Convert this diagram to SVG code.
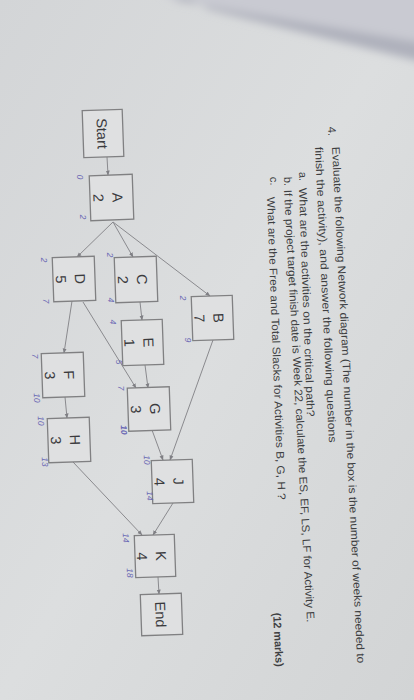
<svg xmlns="http://www.w3.org/2000/svg" width="414" height="700" viewBox="0 0 414 700">
<defs>
<linearGradient id="paper" x1="0" y1="0" x2="1" y2="1">
<stop offset="0" stop-color="#d3d5d7"/>
<stop offset="0.5" stop-color="#dcdedf"/>
<stop offset="1" stop-color="#d2d4d5"/>
</linearGradient>
<filter id="soft" x="-10%" y="-50%" width="120%" height="200%">
<feGaussianBlur stdDeviation="4"/>
</filter>
<marker id="ah" viewBox="0 0 10 10" refX="9" refY="5" markerWidth="5" markerHeight="5" orient="auto">
<path d="M0,1 L10,5 L0,9 z" fill="#7f7f84"/>
</marker>
<style>
.box{fill:#dfe0e1;stroke:#808082;stroke-width:1.3}
.nt{font-family:"Liberation Sans",Arial,sans-serif;font-size:14.5px;fill:#3b3b3e;text-anchor:middle}
.q{font-family:"Liberation Sans",Arial,sans-serif;font-size:11px;fill:#3e3f42}
.hw{font-family:"Liberation Sans",Arial,sans-serif;font-size:8.5px;fill:#6a68b4;font-style:italic;text-anchor:middle;dominant-baseline:central}
.cn{fill:none;stroke:#8a8a8e;stroke-width:1;marker-end:url(#ah)}
</style>
</defs>
<rect width="414" height="700" fill="url(#paper)"/>
<g filter="url(#soft)">
<polygon points="160,-10 430,-10 430,44 173,0" fill="#c9cad2"/>
<polygon points="173,0 430,44 430,64 210,10 185,-4" fill="#afb1bc"/>
</g>

<g id="question">
<text class="q" transform="translate(328,127) rotate(87)">4.</text>
<text class="q" transform="translate(332,147) rotate(87.2)" textLength="517" lengthAdjust="spacingAndGlyphs">Evaluate the following Network diagram (The number in the box is the number of weeks needed to</text>
<text class="q" transform="translate(315,147) rotate(87.3)" textLength="296" lengthAdjust="spacingAndGlyphs">finish the activity), and answer the following questions</text>
<text class="q" transform="translate(299,172) rotate(87.5)">a.</text>
<text class="q" transform="translate(299,188) rotate(88)" textLength="229" lengthAdjust="spacingAndGlyphs">What are the activities on the critical path?</text>
<text class="q" transform="translate(284,177) rotate(87.5)">b.</text>
<text class="q" transform="translate(284,190) rotate(86.95)" textLength="433" lengthAdjust="spacingAndGlyphs">If the project target finish date is Week 22, calculate the ES, EF, LS, LF for Activity E.</text>
<text class="q" transform="translate(270,177) rotate(87.5)">c.</text>
<text class="q" transform="translate(267,197) rotate(87.9)" textLength="303" lengthAdjust="spacingAndGlyphs">What are the Free and Total Slacks for Activities B, G, H ?</text>
<text class="q" font-weight="bold" transform="translate(273,613) rotate(87)" textLength="54" lengthAdjust="spacingAndGlyphs">(12 marks)</text>
</g>

<g id="connectors">
<line class="cn" x1="107" y1="157" x2="108" y2="175"/>
<line class="cn" x1="113" y1="222" x2="77" y2="257"/>
<line class="cn" x1="113" y1="222" x2="133" y2="257"/>
<line class="cn" x1="113" y1="222" x2="210" y2="296"/>
<line class="cn" x1="140" y1="302" x2="142" y2="320"/>
<line class="cn" x1="145" y1="365" x2="148" y2="388"/>
<line class="cn" x1="83" y1="302" x2="136" y2="388"/>
<line class="cn" x1="72" y1="301" x2="64" y2="353"/>
<line class="cn" x1="65" y1="397" x2="67" y2="418"/>
<line class="cn" x1="152" y1="430" x2="163" y2="460"/>
<line class="cn" x1="213" y1="340" x2="170" y2="460"/>
<line class="cn" x1="173" y1="503" x2="153" y2="535"/>
<line class="cn" x1="73" y1="462" x2="142" y2="535"/>
<line class="cn" x1="158" y1="577" x2="159" y2="594"/>
</g>

<g id="Start" transform="translate(103,133.5) rotate(88)">
<rect class="box" x="-23.5" y="-20" width="47" height="40"/>
<text class="nt" x="0" y="6">Start</text>
</g>
<g id="A" transform="translate(111.5,197.5) rotate(88)">
<rect class="box" x="-22.5" y="-21.5" width="45" height="43"/>
<text class="nt" x="0" y="-1">A</text>
<text class="nt" x="0" y="18">2</text>
</g>
<g id="D" transform="translate(74,279) rotate(88)">
<rect class="box" x="-22" y="-21" width="44" height="42"/>
<text class="nt" x="0" y="-1">D</text>
<text class="nt" x="0" y="18">5</text>
</g>
<g id="C" transform="translate(136,279.5) rotate(88)">
<rect class="box" x="-22.5" y="-21" width="45" height="42"/>
<text class="nt" x="0" y="-1">C</text>
<text class="nt" x="0" y="18">2</text>
</g>
<g id="B" transform="translate(212.5,318) rotate(88)">
<rect class="box" x="-22" y="-20.5" width="44" height="41"/>
<text class="nt" x="0" y="-1">B</text>
<text class="nt" x="0" y="18">7</text>
</g>
<g id="E" transform="translate(142.5,342.5) rotate(88)">
<rect class="box" x="-22.5" y="-20.5" width="45" height="41"/>
<text class="nt" x="0" y="-1">E</text>
<text class="nt" x="0" y="18">1</text>
</g>
<g id="G" transform="translate(149,409) rotate(88)">
<rect class="box" x="-21.5" y="-21" width="43" height="42"/>
<text class="nt" x="0" y="-1">G</text>
<text class="nt" x="0" y="18">3</text>
</g>
<g id="F" transform="translate(63,375) rotate(88)">
<rect class="box" x="-22" y="-21" width="44" height="42"/>
<text class="nt" x="0" y="-1">F</text>
<text class="nt" x="0" y="18">3</text>
</g>
<g id="H" transform="translate(69,440) rotate(88)">
<rect class="box" x="-22" y="-21" width="44" height="42"/>
<text class="nt" x="0" y="-1">H</text>
<text class="nt" x="0" y="18">3</text>
</g>
<g id="J" transform="translate(172.5,481.5) rotate(88)">
<rect class="box" x="-21.5" y="-20.5" width="43" height="41"/>
<text class="nt" x="0" y="-1">J</text>
<text class="nt" x="0" y="18">4</text>
</g>
<g id="K" transform="translate(155,556) rotate(88)">
<rect class="box" x="-21" y="-20" width="42" height="40"/>
<text class="nt" x="0" y="-1">K</text>
<text class="nt" x="0" y="18">4</text>
</g>
<g id="End" transform="translate(161.5,614.5) rotate(88)">
<rect class="box" x="-20.5" y="-20.5" width="41" height="41"/>
<text class="nt" x="0" y="6">End</text>
</g>

<g id="annotations">
<text class="hw" transform="translate(80,177) rotate(88)">0</text>
<text class="hw" transform="translate(83,217) rotate(88)">2</text>
<text class="hw" transform="translate(44,260) rotate(88)">2</text>
<text class="hw" transform="translate(46,301) rotate(88)">7</text>
<text class="hw" transform="translate(110,255) rotate(88)">2</text>
<text class="hw" transform="translate(111,300) rotate(88)">4</text>
<text class="hw" transform="translate(183,298) rotate(88)">2</text>
<text class="hw" transform="translate(188,340) rotate(88)">9</text>
<text class="hw" transform="translate(113,322) rotate(88)">4</text>
<text class="hw" transform="translate(119,362) rotate(88)">5</text>
<text class="hw" transform="translate(121,388) rotate(88)">7</text>
<text class="hw" font-weight="bold" fill="#3d3db8" transform="translate(124,430) rotate(88)">10</text>
<text class="hw" transform="translate(35,356) rotate(88)">7</text>
<text class="hw" transform="translate(37,398) rotate(88)">10</text>
<text class="hw" transform="translate(41,421) rotate(88)">10</text>
<text class="hw" transform="translate(45,462) rotate(88)">13</text>
<text class="hw" transform="translate(147,460) rotate(88)">10</text>
<text class="hw" transform="translate(150,496) rotate(88)">14</text>
<text class="hw" transform="translate(126,538) rotate(88)">14</text>
<text class="hw" transform="translate(130,573) rotate(88)">18</text>
</g>
</svg>
